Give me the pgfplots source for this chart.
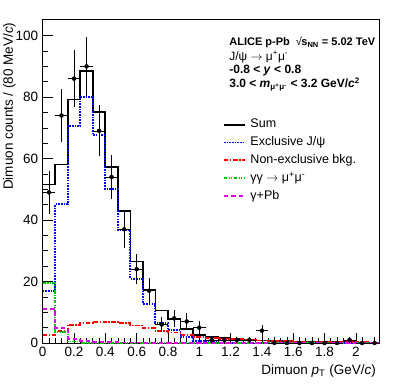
\documentclass[border=0pt]{standalone}
\usepackage{fontspec}
\setmainfont{Liberation Sans}
\usepackage{pgfplots}
\pgfplotsset{compat=1.18}

\definecolor{rblue}{RGB}{0,0,255}
\definecolor{rred}{RGB}{255,0,0}
\definecolor{rgreen}{RGB}{0,200,0}
\definecolor{rmag}{RGB}{220,0,230}

% histogram bins of 0.08 GeV/c, left edges; last row repeats the final bin
\pgfplotstableread{
x     sum    excl   nonex  gg    gpb
0.00  51.6   16.8   2.7    19.5  11.1
0.08  58.1   45.1   3.8    3.5   4.8
0.16  79.2   70.5   5.9    0.5   1.4
0.24  88.5   80.1   6.5    0.1   0.7
0.32  75.1   67.6   6.9    0.0   0.4
0.40  57.3   50.0   6.8    0.0   0.3
0.48  43.0   36.7   6.4    0.0   0.2
0.56  26.5   20.9   5.7    0.0   0.15
0.64  17.4   12.8   4.9    0.0   0.1
0.72  10.6   6.6    4.0    0.0   0.08
0.80  7.7    4.1    3.4    0.0   0.05
0.88  4.6    1.9    2.7    0.0   0.04
0.96  2.5    0.6    1.9    0.0   0.03
1.04  2.0    0.3    1.6    0.0   0.0
1.12  1.6    0.15   1.4    0.0   0.0
1.20  1.35   0.1    1.2    0.0   0.0
1.28  1.1    0.05   1.0    0.0   0.0
1.36  0.85   0.0    0.8    0.0   0.0
1.44  0.7    0.0    0.65   0.0   0.0
1.52  0.6    0.0    0.55   0.0   0.0
1.60  0.5    0.0    0.45   0.0   0.0
1.68  0.4    0.0    0.38   0.0   0.0
1.76  0.35   0.0    0.32   0.0   0.0
1.84  0.3    0.0    0.27   0.0   0.0
1.92  0.25   0.0    0.23   0.0   0.0
2.00  0.2    0.0    0.2    0.0   0.0
2.08  0.2    0.0    0.18   0.0   0.0
2.16  0.2    0.0    0.18   0.0   0.0
}\histtab

% data: bin centre, counts, half bin width, stat. errors
\pgfplotstableread{
x     y    ex    eyp   eym
0.04  49   0.04  7.0   7.0
0.12  74   0.04  8.6   8.6
0.20  86   0.04  9.3   9.3
0.28  90   0.04  9.5   9.5
0.36  69   0.04  8.3   8.3
0.44  54   0.04  7.3   7.3
0.52  37   0.04  6.1   6.1
0.60  24   0.04  4.9   4.9
0.68  17   0.04  4.1   4.1
0.76  6    0.04  2.4   2.4
0.84  8    0.04  2.8   2.8
0.92  7    0.04  2.6   2.6
1.00  5    0.04  2.2   2.2
1.08  1    0.04  1.0   1.0
1.16  1    0.04  1.0   1.0
1.24  1    0.04  1.0   1.0
1.32  1    0.04  1.0   1.0
1.40  4    0.04  2.0   2.0
1.48  0    0.04  1.8   0.0
1.56  0    0.04  1.8   0.0
1.64  0    0.04  1.8   0.0
1.72  0    0.04  1.8   0.0
1.80  0    0.04  1.8   0.0
1.88  0    0.04  1.8   0.0
1.96  1    0.04  1.0   1.0
2.04  0    0.04  1.8   0.0
2.12  0    0.04  1.8   0.0
}\datatab

\begin{document}
\begin{tikzpicture}
\path[use as bounding box] (-42.7pt,-43pt) rectangle (356.3pt,343pt);
\begin{axis}[
    at={(0,0)}, anchor=south west,
    scale only axis, width=336.6pt, height=324pt,
    xmin=0, xmax=2.15, ymin=0, ymax=105.4,
    xtick={0,0.2,...,2.01}, ytick={0,20,...,100},
    minor x tick num=4, minor y tick num=3,
    tick align=inside, tick pos=left,
    major tick length=10pt, minor tick length=5pt,
    every tick/.style={black, line width=0.6pt},
    axis line style={line width=0.8pt},
    /pgf/number format/assume math mode=true,
    ticklabel style={font=\fontsize{13.5}{16}\selectfont},
    xticklabel style={yshift=-1pt},
    yticklabel style={xshift=-1pt},
    xlabel={Dimuon \textit{p}\textsubscript{T} (GeV/\textit{c})},
    ylabel={Dimuon counts / (80 MeV/\textit{c})},
    label style={font=\fontsize{13.5}{16}\selectfont},
    xlabel style={at={(axis description cs:1,-0.0957)}, anchor=base east},
    ylabel style={at={(axis description cs:-0.07,1)}, anchor=south east},
    legend style={at={(rel axis cs:0.535,0.692)}, anchor=north west,
        draw=none, fill=none, inner sep=0pt, row sep=6.3pt, column sep=5pt,
        font=\fontsize{12.5}{15}\selectfont,
        nodes={inner sep=0pt, text height=9pt, text depth=2.5pt}},
    legend cell align=left,
    legend image code/.code={\draw[#1] (0pt,0pt) -- (20.6pt,0pt);},
    clip mode=individual,
]
\addplot[const plot, black, line width=1.7pt] table[x=x,y=sum] {\histtab};
\addlegendentry{Sum}
\addplot[const plot, rblue, line width=1.9pt, dash pattern=on 1.6pt off 1.1pt] table[x=x,y=excl] {\histtab};
\addlegendentry{Exclusive J/ψ}
\addplot[const plot, rred, line width=1.8pt, dash pattern=on 4.5pt off 1.6pt on 1.4pt off 1.6pt] table[x=x,y=nonex] {\histtab};
\addlegendentry{Non-exclusive bkg.}
\addplot[const plot, rgreen, line width=1.7pt, dash pattern=on 3.5pt off 1.3pt on 1.2pt off 1.3pt on 1.2pt off 1.3pt] table[x=x,y=gg] {\histtab};
\addlegendentry{γγ $\rightarrow$ μ\textsuperscript{+}μ\textsuperscript{-}}
\addplot[const plot, rmag, line width=1.7pt, dash pattern=on 4.5pt off 3pt] table[x=x,y=gpb] {\histtab};
\addlegendentry{γ+Pb}

\addplot[black, only marks, mark=*, mark size=2pt,
    error bars/.cd, x dir=both, x explicit, y dir=both, y explicit,
    error mark=none, error bar style={line width=0.7pt, black}]
    table[x=x, y=y, x error=ex, y error plus=eyp, y error minus=eym] {\datatab};

\node[anchor=base west, font=\fontsize{11}{13}\selectfont\bfseries, inner sep=0pt]
    at (rel axis cs:0.554,0.917)
    {ALICE p-Pb\hspace{6pt}{\mdseries √}\kern-0.5pt s\textsubscript{\fontsize{7.5}{9}\selectfont NN} = 5.02 TeV};
\node[anchor=base west, font=\fontsize{12}{14}\selectfont, inner sep=0pt]
    at (rel axis cs:0.554,0.873)
    {J/ψ $\rightarrow$ μ\textsuperscript{+}μ\textsuperscript{-}};
\node[anchor=base west, font=\fontsize{12}{14}\selectfont\bfseries, inner sep=0pt]
    at (rel axis cs:0.554,0.831)
    {-0.8 < \textit{y} < 0.8};
\node[anchor=base west, font=\fontsize{12}{14}\selectfont\bfseries, inner sep=0pt]
    at (rel axis cs:0.554,0.788)
    {3.0 < \textit{m}\textsubscript{μ\textsuperscript{+}μ\textsuperscript{-}} < 3.2 GeV/\textit{c}\textsuperscript{2}};
\end{axis}
\end{tikzpicture}
\end{document}
